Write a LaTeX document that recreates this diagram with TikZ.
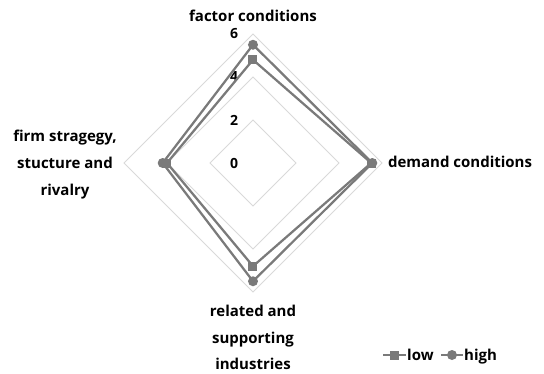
\documentclass[tikz,border=0pt]{standalone}
\usepackage{fontspec}
\setmainfont{Open Sans}
\usepackage{tikz}
\usetikzlibrary{positioning}
\definecolor{gridgray}{RGB}{217,217,217}
\definecolor{seriesgray}{RGB}{122,122,122}
\newcommand{\ulen}{21.5}

\begin{document}
\begin{tikzpicture}[x=1pt, y=1pt, font=\bfseries\fontsize{15}{17}\selectfont,
  series/.style={seriesgray, line width=2.25pt, line join=round},
  lowmark/.style={rectangle, fill=seriesgray, minimum size=9pt, inner sep=0pt},
  highmark/.style={circle, fill=seriesgray, minimum size=10pt, inner sep=0pt},
  axislabel/.style={align=center, font=\bfseries\fontsize{15}{26.8}\selectfont}]
\useasboundingbox (-253,-210) rectangle (291,163);

% grid diamonds at 2, 4, 6
\foreach \v in {2,4,6} {
  \draw[gridgray, line width=0.8pt] (0,\v*\ulen) -- (\v*\ulen,0) -- (0,-\v*\ulen) -- (-\v*\ulen,0) -- cycle;
}
% tick labels
\foreach \v in {0,2,4,6} {
  \node[font=\bfseries\fontsize{14}{16}\selectfont] (tick\v) at (-19,\v*\ulen) {\v};
}

% low series
\coordinate (low-f) at (0,4.8*\ulen);
\coordinate (low-d) at (5.5*\ulen,0);
\coordinate (low-r) at (0,-4.8*\ulen);
\coordinate (low-s) at (-4.0*\ulen,0);
\draw[series] (low-f) -- (low-d) -- (low-r) -- (low-s) -- cycle;

% high series
\coordinate (high-f) at (0,5.5*\ulen);
\coordinate (high-d) at (5.55*\ulen,0);
\coordinate (high-r) at (0,-5.5*\ulen);
\coordinate (high-s) at (-4.2*\ulen,0);
\draw[series] (high-f) -- (high-d) -- (high-r) -- (high-s) -- cycle;

% markers
\foreach \p in {f,d,r,s} {
  \node[lowmark] at (low-\p) {};
  \node[highmark] at (high-\p) {};
}

% axis labels
\node[anchor=base] (factor) at (0,142) {factor conditions};
\node[anchor=base west] (demand) at (131.5,-4) {demand conditions};
\node[axislabel] (related) at (0,-174.5) {related and\\supporting\\industries};
\node[axislabel] (firm) at (-188,-1.5) {firm stragegy,\\stucture and\\rivalry};

% legend
\coordinate (lowline-a) at (130,-192);
\coordinate (lowline-b) at (153,-192);
\draw[series] (lowline-a) -- (lowline-b);
\node[lowmark] at (141.5,-192) {};
\node[base right=0pt of lowline-b, yshift=-5pt, inner sep=1pt] (lowtext) {low};
\coordinate (highline-a) at (188,-192);
\coordinate (highline-b) at (210,-192);
\draw[series] (highline-a) -- (highline-b);
\node[highmark] at (199,-192) {};
\node[base right=0pt of highline-b, yshift=-5pt, inner sep=1pt] (hightext) {high};
\end{tikzpicture}
\end{document}
